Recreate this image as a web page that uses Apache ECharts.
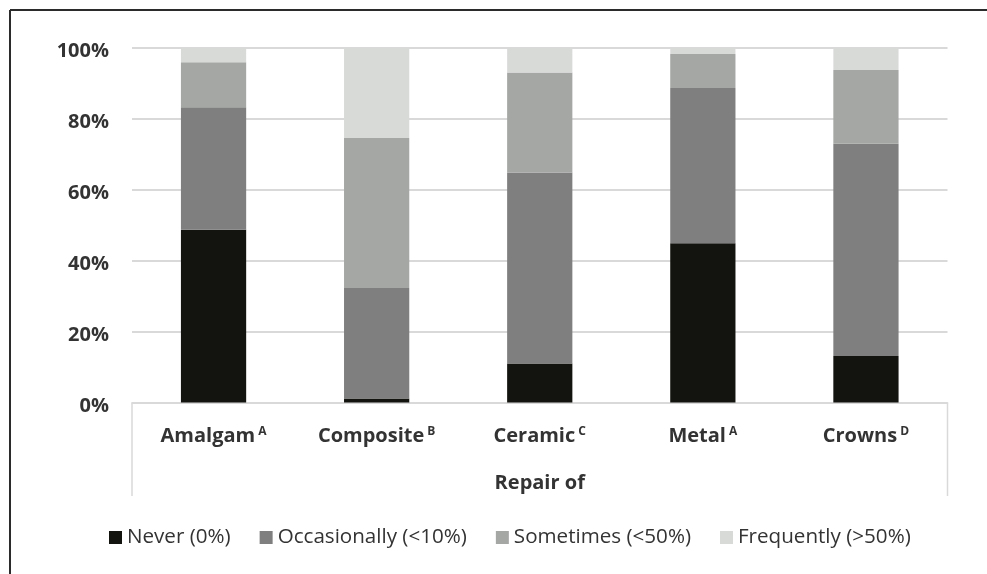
<!DOCTYPE html>
<html>
<head>
<meta charset="utf-8">
<script src="https://cdn.jsdelivr.net/npm/echarts@6/dist/echarts.min.js"></script>
<style>
html,body{margin:0;padding:0;background:#fff;}
#c{width:987px;height:574px;}
</style>
</head>
<body>
<div id="c"></div>
<script>
var categories = ['Amalgam', 'Composite', 'Ceramic', 'Metal', 'Crowns'];
var superscripts = ['A', 'B', 'C', 'A', 'D'];
var seriesNames = ['Never (0%)', 'Occasionally (<10%)', 'Sometimes (<50%)', 'Frequently (>50%)'];
var never = [48.7, 1.1, 11.0, 44.9, 13.1];
var occasionally = [34.6, 31.2, 53.9, 43.8, 59.9];
var sometimes = [12.7, 42.3, 28.2, 9.6, 20.8];
var frequently = [4.0, 25.4, 6.9, 1.7, 6.2];
var yTicks = [0, 20, 40, 60, 80, 100];

var colors = ['#13130f', '#7e7f7e', '#a5a7a5', '#d8dad8'];
var seriesData = [never, occasionally, sometimes, frequently];
var font = 'Open Sans';

var chart = echarts.init(document.getElementById('c'), null, {renderer: 'canvas'});

var labelMap = {};
categories.forEach(function (c, i) { labelMap[c] = superscripts[i]; });

var series = seriesNames.map(function (name, i) {
  return {
    name: name,
    type: 'bar',
    stack: 'total',
    barWidth: '40%',
    data: seriesData[i],
    itemStyle: {color: colors[i]},
    emphasis: {disabled: true},
    animation: false
  };
});

chart.setOption({
  backgroundColor: '#ffffff',
  animation: false,
  textStyle: {fontFamily: font},
  grid: {left: 132, right: 39.5, top: 48, bottom: 171.5, containLabel: false},
  legend: {
    data: seriesNames,
    left: 104,
    top: 522,
    itemWidth: 13,
    itemHeight: 13,
    itemGap: 29,
    icon: 'rect',
    textStyle: {fontFamily: font, fontSize: 20.6, color: '#333333'}
  },
  xAxis: {
    type: 'category',
    data: categories,
    axisLine: {show: true, lineStyle: {color: '#d9d9d9', width: 1.5}},
    axisTick: {show: false},
    axisLabel: {
      margin: 23,
      formatter: function (v) { return '{n|' + v + '} {s|' + labelMap[v] + '}'; },
      rich: {
        n: {fontFamily: font, fontSize: 20, fontWeight: 'bold', color: '#333333', verticalAlign: 'bottom'},
        s: {fontFamily: font, fontSize: 12, fontWeight: 'bold', color: '#333333', verticalAlign: 'bottom', padding: [0, 0, 9, 0]}
      }
    },
    name: 'Repair of',
    nameLocation: 'middle',
    nameGap: 71,
    nameTextStyle: {fontFamily: font, fontSize: 20, fontWeight: 'bold', color: '#333333', verticalAlign: 'top'}
  },
  yAxis: {
    type: 'value',
    min: yTicks[0],
    max: yTicks[yTicks.length - 1],
    interval: yTicks[1] - yTicks[0],
    axisLine: {show: false},
    axisTick: {show: false},
    splitLine: {lineStyle: {color: '#d9d9d9', width: 2}},
    axisLabel: {
      margin: 23,
      formatter: function (v) { return '{p|' + v + '%}'; },
      rich: {
        p: {fontFamily: font, fontSize: 20, fontWeight: 'bold', color: '#333333', padding: [7, 0, 0, 0]}
      }
    }
  },
  graphic: [
    {type: 'line', shape: {x1: 10, y1: 10, x2: 987, y2: 10}, style: {stroke: '#2b2b2b', lineWidth: 2}, silent: true},
    {type: 'line', shape: {x1: 10, y1: 10, x2: 10, y2: 574}, style: {stroke: '#2b2b2b', lineWidth: 2}, silent: true},
    {type: 'line', shape: {x1: 132, y1: 402.5, x2: 132, y2: 496}, style: {stroke: '#d9d9d9', lineWidth: 1.5}, silent: true},
    {type: 'line', shape: {x1: 947.5, y1: 402.5, x2: 947.5, y2: 496}, style: {stroke: '#d9d9d9', lineWidth: 1.5}, silent: true}
  ],
  series: series
});
</script>
</body>
</html>
